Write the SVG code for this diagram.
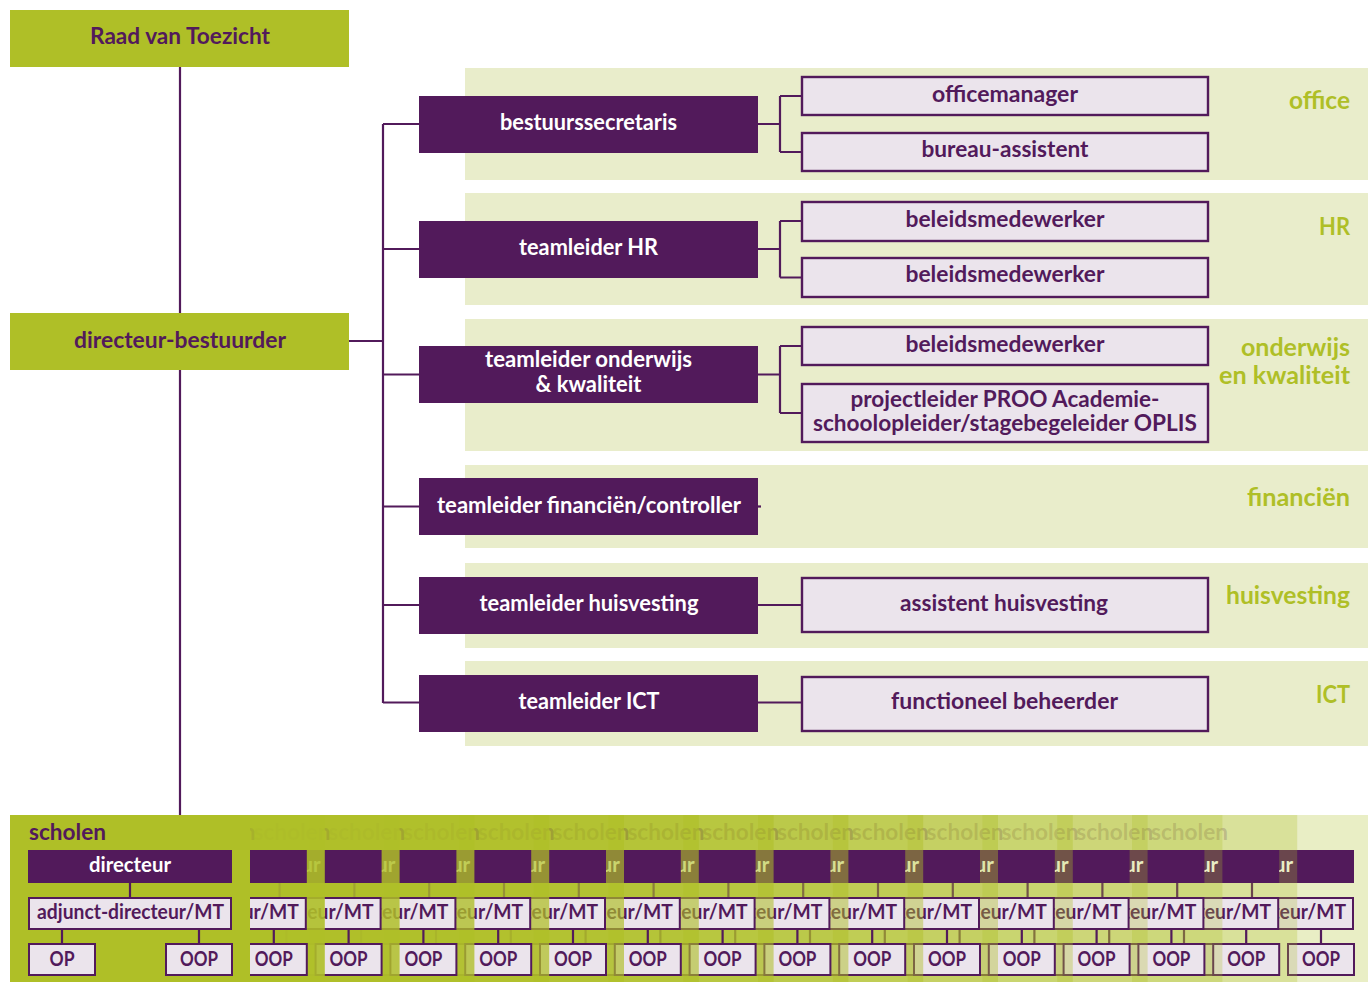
<svg xmlns="http://www.w3.org/2000/svg" xmlns:xlink="http://www.w3.org/1999/xlink" width="1368" height="982" viewBox="0 0 1368 982">
  <style>
    .txt { font-family: Lato, "Open Sans", "DejaVu Sans", sans-serif; font-weight: 700; }
    .c { text-anchor: middle; }
    .e { text-anchor: end; }
    .f22 { font-size: 22px; }
    .f21 { font-size: 21px; }
    .f24 { font-size: 24px; }
    .white { fill: #ffffff; fill-opacity: 1; }
    .purple { fill: #521a5b; fill-opacity: 1; }
    .olive { fill: #afbf27; }
    .top { fill: #afbf27; }
    .band { fill: #e9edcb; }
    .lead { fill: #521a5b; fill-opacity: 1; }
    .staff { fill: #ebe4ec; fill-opacity: 1; stroke: #521a5b; stroke-width: 2.4; }
    .wire { fill: none; stroke: #521a5b; stroke-width: 2.2; }
    .cardbg { fill: #afbf27; }
    .cardlbl { fill: #521a5b; }
    .cardbox { fill: #521a5b; fill-opacity: 1; }
    .cardstaff { fill: #ebe4ec; fill-opacity: 1; stroke: #521a5b; stroke-width: 2; }
  </style>

  <defs>
    <!-- one school card; background and title follow the fill-opacity of the <use> -->
    <g id="schoolCard">
      <rect class="cardbg" x="10" y="815" width="240" height="167"/>
      <text class="txt cardlbl f22" x="29" y="840" textLength="77" lengthAdjust="spacingAndGlyphs">scholen</text>
      <path class="wire" d="M130,883 V897 M62,929 V943 M199,929 V943"/>
      <rect class="cardbox" x="28" y="850" width="204" height="33"/>
      <text class="txt white f21 c" x="130" y="872" textLength="82" lengthAdjust="spacingAndGlyphs">directeur</text>
      <rect class="cardstaff" x="29" y="898" width="202" height="31"/>
      <text class="txt purple f21 c" x="130.5" y="919" textLength="187" lengthAdjust="spacingAndGlyphs">adjunct-directeur/MT</text>
      <rect class="cardstaff" x="29" y="944" width="66" height="31"/>
      <text class="txt purple f21 c" x="62" y="966" textLength="25" lengthAdjust="spacingAndGlyphs">OP</text>
      <rect class="cardstaff" x="166" y="944" width="66" height="31"/>
      <text class="txt purple f21 c" x="199" y="966" textLength="38" lengthAdjust="spacingAndGlyphs">OOP</text>
    </g>
  </defs>

  <!-- department bands -->
  <g id="bands">
    <rect class="band" x="465" y="68" width="903" height="112"/>
    <rect class="band" x="465" y="193" width="903" height="112"/>
    <rect class="band" x="465" y="319" width="903" height="132"/>
    <rect class="band" x="465" y="465" width="903" height="83"/>
    <rect class="band" x="465" y="563" width="903" height="85"/>
    <rect class="band" x="465" y="661" width="903" height="85"/>
  </g>

  <!-- connectors -->
  <g id="connectors">
    <path class="wire" d="M180,67 V815"/>
    <path class="wire" d="M349,341 H383 M383,124 V703"/>
    <path class="wire" d="M383,124 H419 M383,249 H419 M383,374.5 H419 M383,506.5 H419 M383,605 H419 M383,702.5 H419"/>
    <path class="wire" d="M758,124 H780 M780,96 V152 M780,96 H801 M780,152 H801"/>
    <path class="wire" d="M758,249 H780 M780,221 V277.5 M780,221 H801 M780,277.5 H801"/>
    <path class="wire" d="M758,374.5 H780 M780,346 V413 M780,346 H801 M780,413 H801"/>
    <path class="wire" d="M758,506.5 H761"/>
    <path class="wire" d="M758,605 H801 M758,702.5 H801"/>
  </g>

  <!-- governance -->
  <g id="raad-van-toezicht">
    <rect class="top" x="10" y="10" width="339" height="57"/>
    <text class="txt purple f22 c" x="180" y="44" textLength="180" lengthAdjust="spacingAndGlyphs">Raad van Toezicht</text>
  </g>
  <g id="directeur-bestuurder">
    <rect class="top" x="10" y="313" width="339" height="57"/>
    <text class="txt purple f22 c" x="180" y="348" textLength="212" lengthAdjust="spacingAndGlyphs">directeur-bestuurder</text>
  </g>

  <!-- team leaders -->
  <g id="bestuurssecretaris">
    <rect class="lead" x="419" y="96" width="339" height="57"/>
    <text class="txt white f22 c" x="588.5" y="130" textLength="177" lengthAdjust="spacingAndGlyphs">bestuurssecretaris</text>
  </g>
  <g id="teamleider-hr">
    <rect class="lead" x="419" y="221" width="339" height="57"/>
    <text class="txt white f22 c" x="588.5" y="255" textLength="139" lengthAdjust="spacingAndGlyphs">teamleider HR</text>
  </g>
  <g id="teamleider-onderwijs">
    <rect class="lead" x="419" y="346" width="339" height="57"/>
    <text class="txt white f22 c" x="588.5" y="367" textLength="207" lengthAdjust="spacingAndGlyphs">teamleider onderwijs</text>
    <text class="txt white f22 c" x="588.5" y="392" textLength="106" lengthAdjust="spacingAndGlyphs">&amp; kwaliteit</text>
  </g>
  <g id="teamleider-financien">
    <rect class="lead" x="419" y="478" width="339" height="57"/>
    <text class="txt white f22 c" x="589" y="513" textLength="304" lengthAdjust="spacingAndGlyphs">teamleider financiën/controller</text>
  </g>
  <g id="teamleider-huisvesting">
    <rect class="lead" x="419" y="577" width="339" height="57"/>
    <text class="txt white f22 c" x="589" y="611" textLength="219" lengthAdjust="spacingAndGlyphs">teamleider huisvesting</text>
  </g>
  <g id="teamleider-ict">
    <rect class="lead" x="419" y="675" width="339" height="57"/>
    <text class="txt white f22 c" x="589" y="709" textLength="141" lengthAdjust="spacingAndGlyphs">teamleider ICT</text>
  </g>

  <!-- staff -->
  <g id="officemanager">
    <rect class="staff" x="802" y="77" width="406" height="38"/>
    <text class="txt purple f22 c" x="1005" y="102" textLength="146" lengthAdjust="spacingAndGlyphs">officemanager</text>
  </g>
  <g id="bureau-assistent">
    <rect class="staff" x="802" y="133" width="406" height="38"/>
    <text class="txt purple f22 c" x="1005" y="157" textLength="167" lengthAdjust="spacingAndGlyphs">bureau-assistent</text>
  </g>
  <g id="beleidsmedewerker-hr-1">
    <rect class="staff" x="802" y="202" width="406" height="39"/>
    <text class="txt purple f22 c" x="1005" y="227" textLength="199" lengthAdjust="spacingAndGlyphs">beleidsmedewerker</text>
  </g>
  <g id="beleidsmedewerker-hr-2">
    <rect class="staff" x="802" y="258" width="406" height="39"/>
    <text class="txt purple f22 c" x="1005" y="282" textLength="199" lengthAdjust="spacingAndGlyphs">beleidsmedewerker</text>
  </g>
  <g id="beleidsmedewerker-onderwijs">
    <rect class="staff" x="802" y="327" width="406" height="38"/>
    <text class="txt purple f22 c" x="1005" y="352" textLength="199" lengthAdjust="spacingAndGlyphs">beleidsmedewerker</text>
  </g>
  <g id="projectleider">
    <rect class="staff" x="802" y="384" width="406" height="58"/>
    <text class="txt purple f22 c" x="1005" y="407" textLength="309" lengthAdjust="spacingAndGlyphs">projectleider PROO Academie-</text>
    <text class="txt purple f22 c" x="1005" y="431" textLength="384" lengthAdjust="spacingAndGlyphs">schoolopleider/stagebegeleider OPLIS</text>
  </g>
  <g id="assistent-huisvesting">
    <rect class="staff" x="802" y="578" width="406" height="54"/>
    <text class="txt purple f22 c" x="1004" y="611" textLength="208" lengthAdjust="spacingAndGlyphs">assistent huisvesting</text>
  </g>
  <g id="functioneel-beheerder">
    <rect class="staff" x="802" y="677" width="406" height="54"/>
    <text class="txt purple f22 c" x="1004.5" y="709" textLength="227" lengthAdjust="spacingAndGlyphs">functioneel beheerder</text>
  </g>

  <!-- department names -->
  <g id="department-labels">
    <text class="txt olive f24 e" x="1350" y="109" textLength="61" lengthAdjust="spacingAndGlyphs">office</text>
    <text class="txt olive f24 e" x="1350" y="235" textLength="31" lengthAdjust="spacingAndGlyphs">HR</text>
    <text class="txt olive f24 e" x="1350" y="356" textLength="109" lengthAdjust="spacingAndGlyphs">onderwijs</text>
    <text class="txt olive f24 e" x="1350" y="384" textLength="131" lengthAdjust="spacingAndGlyphs">en kwaliteit</text>
    <text class="txt olive f24 e" x="1350" y="506" textLength="103" lengthAdjust="spacingAndGlyphs">financiën</text>
    <text class="txt olive f24 e" x="1350" y="604" textLength="124" lengthAdjust="spacingAndGlyphs">huisvesting</text>
    <text class="txt olive f24 e" x="1350" y="703" textLength="34" lengthAdjust="spacingAndGlyphs">ICT</text>
  </g>

  <!-- school deck: back cards first, the front card last -->
  <g id="school-deck">
    <use xlink:href="#schoolCard" href="#schoolCard" x="1122" fill-opacity="0.27"/>
    <use xlink:href="#schoolCard" href="#schoolCard" x="1047.2" fill-opacity="0.27"/>
    <use xlink:href="#schoolCard" href="#schoolCard" x="972.4" fill-opacity="0.27"/>
    <use xlink:href="#schoolCard" href="#schoolCard" x="897.6" fill-opacity="0.29"/>
    <use xlink:href="#schoolCard" href="#schoolCard" x="822.8" fill-opacity="0.345"/>
    <use xlink:href="#schoolCard" href="#schoolCard" x="748" fill-opacity="0.40"/>
    <use xlink:href="#schoolCard" href="#schoolCard" x="673.2" fill-opacity="0.455"/>
    <use xlink:href="#schoolCard" href="#schoolCard" x="598.4" fill-opacity="0.51"/>
    <use xlink:href="#schoolCard" href="#schoolCard" x="523.6" fill-opacity="0.565"/>
    <use xlink:href="#schoolCard" href="#schoolCard" x="448.8" fill-opacity="0.62"/>
    <use xlink:href="#schoolCard" href="#schoolCard" x="374" fill-opacity="0.675"/>
    <use xlink:href="#schoolCard" href="#schoolCard" x="299.2" fill-opacity="0.73"/>
    <use xlink:href="#schoolCard" href="#schoolCard" x="224.4" fill-opacity="0.785"/>
    <use xlink:href="#schoolCard" href="#schoolCard" x="149.6" fill-opacity="0.84"/>
    <use xlink:href="#schoolCard" href="#schoolCard" x="74.8" fill-opacity="0.895"/>
  </g>

  <!-- front school card -->
  <g id="scholen">
    <rect class="top" x="10" y="815" width="240" height="167"/>
    <text class="txt purple f22" x="29" y="840" textLength="77" lengthAdjust="spacingAndGlyphs">scholen</text>
    <path class="wire" d="M130,883 V897 M62,929 V943 M199,929 V943"/>
  </g>
  <g id="directeur">
    <rect class="cardbox" x="28" y="850" width="204" height="33"/>
    <text class="txt white f21 c" x="130" y="872" textLength="82" lengthAdjust="spacingAndGlyphs">directeur</text>
  </g>
  <g id="adjunct-directeur">
    <rect class="cardstaff" x="29" y="898" width="202" height="31"/>
    <text class="txt purple f21 c" x="130.5" y="919" textLength="187" lengthAdjust="spacingAndGlyphs">adjunct-directeur/MT</text>
  </g>
  <g id="op">
    <rect class="cardstaff" x="29" y="944" width="66" height="31"/>
    <text class="txt purple f21 c" x="62" y="966" textLength="25" lengthAdjust="spacingAndGlyphs">OP</text>
  </g>
  <g id="oop">
    <rect class="cardstaff" x="166" y="944" width="66" height="31"/>
    <text class="txt purple f21 c" x="199" y="966" textLength="38" lengthAdjust="spacingAndGlyphs">OOP</text>
  </g>
</svg>
